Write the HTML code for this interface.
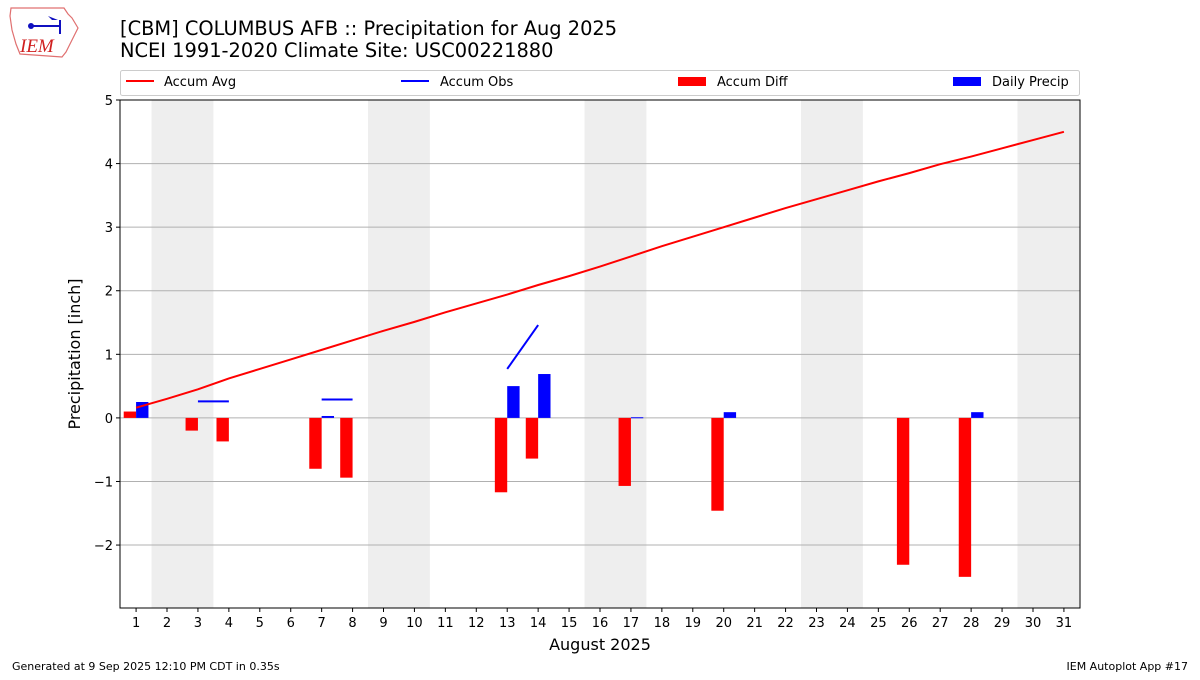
<!DOCTYPE html>
<html><head><meta charset="utf-8"><style>
body{margin:0;background:#fff;font-family:"Liberation Sans","DejaVu Sans",sans-serif;}
</style></head><body>
<svg id="c" width="1200" height="675" xmlns="http://www.w3.org/2000/svg" font-family="DejaVu Sans, Liberation Sans, sans-serif">
<g>
<path d="M11,8 L64,8 L68,14 L72,18 L78,28 L74,36 L70,44 L66,52 L62,57 L20,54 L16,44 L12,30 L10,16 Z" fill="none" stroke="#e07070" stroke-width="1.2"/>
<line x1="30" y1="26" x2="60" y2="26" stroke="#1010c0" stroke-width="2"/>
<circle cx="31" cy="26" r="3" fill="#1010c0"/>
<path d="M48,16 L58,20 L52,20 Z" fill="#1010c0"/>
<line x1="60" y1="20" x2="60" y2="34" stroke="#1010c0" stroke-width="2"/>
<text x="20" y="52" font-family="Liberation Serif, serif" font-style="italic" font-size="19" fill="#d02020">IEM</text>
</g>
<text x="120" y="35" font-size="19.4" fill="#000">[CBM] COLUMBUS AFB :: Precipitation for Aug 2025</text>
<text x="120" y="57" font-size="19.4" fill="#000">NCEI 1991-2020 Climate Site: USC00221880</text>
<g>
<rect x="120.5" y="70.5" width="959" height="25" rx="2" fill="#fff" stroke="#ccc"/>
<line x1="126" y1="81" x2="154" y2="81" stroke="red" stroke-width="2"/>
<text x="164" y="86" font-size="13">Accum Avg</text>
<line x1="401" y1="81" x2="429" y2="81" stroke="blue" stroke-width="2"/>
<text x="440" y="86" font-size="13">Accum Obs</text>
<rect x="678" y="77" width="28" height="9" fill="red"/>
<text x="717" y="86" font-size="13">Accum Diff</text>
<rect x="953" y="77" width="28" height="9" fill="blue"/>
<text x="992" y="86" font-size="13">Daily Precip</text>
</g>
<g id="plot"></g>
<text x="12" y="670" font-size="11">Generated at 9 Sep 2025 12:10 PM CDT in 0.35s</text>
<text x="1188" y="670" font-size="11" text-anchor="end">IEM Autoplot App #17</text>
</svg>
<script>
const days=[1,2,3,4,5,6,7,8,9,10,11,12,13,14,15,16,17,18,19,20,21,22,23,24,25,26,27,28,29,30,31];
const accumAvg=[0.16,0.30,0.45,0.62,0.77,0.92,1.07,1.22,1.37,1.51,1.66,1.80,1.94,2.09,2.23,2.38,2.54,2.70,2.85,3.00,3.15,3.30,3.44,3.58,3.72,3.85,3.99,4.11,4.24,4.37,4.50];
const diffDays=[1,3,4,7,8,13,14,17,20,26,28];
const diffVals=[0.10,-0.20,-0.37,-0.80,-0.94,-1.17,-0.64,-1.07,-1.46,-2.31,-2.50];
const precipDays=[1,7,13,14,17,20,28];
const precipVals=[0.25,0.03,0.50,0.69,0.01,0.09,0.09];
const obsSegments=[[3,0.26,4,0.26],[7,0.29,8,0.29],[13,0.77,14,1.46]];
const weekendStarts=[2,9,16,23,30];
const yTicks=[-2,-1,0,1,2,3,4,5];
const yLabels=["\u22122","\u22121","0","1","2","3","4","5"];

const L=120,R=1080,T=100,B=608,xmin=0.48,xmax=31.52,ymin=-2.99,ymax=5;
const X=d=>L+(d-xmin)/(xmax-xmin)*(R-L);
const Y=v=>T+(ymax-v)/(ymax-ymin)*(B-T);
const NS="http://www.w3.org/2000/svg";
const g=document.getElementById('plot');
function mk(t,a){const e=document.createElementNS(NS,t);for(const k in a)e.setAttribute(k,a[k]);g.appendChild(e);return e;}
weekendStarts.forEach(d=>{
  const e=mk('rect',{x:X(d-0.5),y:T,width:Math.min(X(d+1.5),R)-X(d-0.5),height:B-T,fill:'#eeeeee'});
  
  
});
yTicks.forEach((v,i)=>{
  const l=mk('line',{x1:L,x2:R,y1:Y(v),y2:Y(v),stroke:'#b0b0b0','stroke-width':1});
  
  
  mk('line',{x1:L-4,x2:L,y1:Y(v),y2:Y(v),stroke:'#000'});
  const t=mk('text',{x:L-7,y:Y(v)+5,'font-size':13,'text-anchor':'end'});t.textContent=yLabels[i];
  
  
});
days.forEach(d=>{
  mk('line',{x1:X(d),x2:X(d),y1:B,y2:B+4,stroke:'#000'});
  const t=mk('text',{x:X(d),y:B+19,'font-size':13,'text-anchor':'middle'});t.textContent=d;
  
  
});
const bw=0.4*(R-L)/(xmax-xmin);
diffDays.forEach((d,i)=>{
  const v=diffVals[i];
  const e=mk('rect',{x:X(d-0.4),y:Math.min(Y(v),Y(0)),width:bw,height:Math.abs(Y(v)-Y(0)),fill:'red'});
  
  
});
precipDays.forEach((d,i)=>{
  const v=precipVals[i];
  const e=mk('rect',{x:X(d),y:Y(v),width:bw,height:Math.max(Y(0)-Y(v),1),fill:'blue'});
  
  
});
const avg=mk('polyline',{points:days.map((d,i)=>X(d)+','+Y(accumAvg[i])).join(' '),fill:'none',stroke:'red','stroke-width':2});


obsSegments.forEach(s=>{
  const e=mk('line',{x1:X(s[0]),y1:Y(s[1]),x2:X(s[2]),y2:Y(s[3]),stroke:'blue','stroke-width':2});
  
  
});
const fr=mk('rect',{x:L,y:T,width:R-L,height:B-T,fill:'none',stroke:'#000','stroke-width':1});


const xt=mk('text',{x:(L+R)/2,y:650,'font-size':16,'text-anchor':'middle'});xt.textContent='August 2025';


const yt=mk('text',{x:0,y:0,'font-size':16,'text-anchor':'middle',transform:'translate(80,354) rotate(-90)'});yt.textContent='Precipitation [inch]';


</script>
</body></html>
